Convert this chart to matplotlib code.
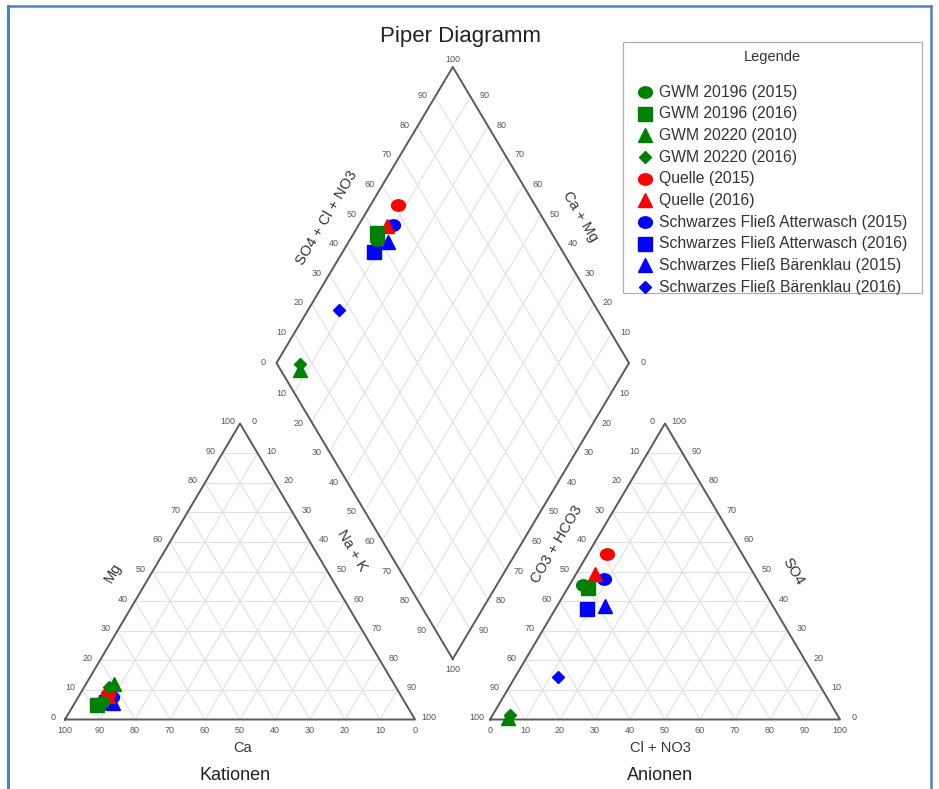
import numpy as np
import matplotlib.pyplot as plt
from matplotlib.path import Path
from matplotlib.patches import Rectangle

plt.rcParams['font.family'] = ['Liberation Sans', 'DejaVu Sans']

# Proben
proben = ["GWM 20196 (2015)", "GWM 20196 (2016)", "GWM 20220 (2010)", "GWM 20220 (2016)",
          "Quelle (2015)", "Quelle (2016)",
          "Schwarzes Fließ Atterwasch (2015)", "Schwarzes Fließ Atterwasch (2016)",
          "Schwarzes Fließ Bärenklau (2015)", "Schwarzes Fließ Bärenklau (2016)"]
farben = ["green", "green", "green", "green", "red", "red", "blue", "blue", "blue", "blue"]
symbole = ["o", "s", "^", "D", "o", "^", "o", "s", "^", "D"]

# Kationen (%)
mg = np.array([6.0, 5.0, 12.0, 11.0, 8.5, 8.0, 7.5, 6.0, 5.5, 7.0])
na_k = np.array([7.6, 6.5, 8.0, 7.0, 7.9, 8.3, 9.6, 8.8, 11.1, 8.8])
ca = 100 - mg - na_k

# Anionen (%)
so4 = np.array([45.3, 44.5, 0.5, 1.5, 56.0, 49.2, 47.5, 37.4, 38.5, 14.5])
cl_no3 = np.array([4.0, 5.8, 5.0, 5.0, 5.3, 5.4, 8.8, 8.9, 13.6, 12.2])
hco3 = 100 - so4 - cl_no3

ticks = np.arange(0, 101, 10)

# Geometrie (Pixel)
KAT = [np.array([65, 719.5]), np.array([415, 719.5]), np.array([240, 423.5])]   # Ca, Na+K, Mg
AN = [np.array([490, 719.5]), np.array([840, 719.5]), np.array([665, 423.5])]   # CO3, Cl, SO4
RB = np.array([452.7, 659.0])
RL = np.array([276.5, 363.0])
RR = np.array([629.0, 363.0])
RT = RL + RR - RB

GRID = "#e1e1e1"
EDGE = "#5a5a5a"
TICK = "#555555"


def tern(p, w1, w2):
    return p[0] + np.multiply.outer(w1, p[1] - p[0]) + np.multiply.outer(w2, p[2] - p[0])


def raute(w1, w2):
    return RB + np.multiply.outer(w1, RL - RB) + np.multiply.outer(w2, RR - RB)


fig = plt.figure(figsize=(9.39, 7.89), dpi=100)
ax = fig.add_axes([0, 0, 1, 1])
ax.set_xlim(0, 939)
ax.set_ylim(789, 0)
ax.axis('off')

# Rahmen
ax.plot([8, 8], [6, 789], color="#4f81bd", lw=2.2)
ax.plot([8, 931], [6, 6], color="#4f81bd", lw=1.8)
ax.plot([931, 931], [6, 789], color="#4f81bd", lw=1.8)

# Dreiecke
for p in (KAT, AN):
    for k in ticks[1:-1] / 100:
        for a, b in [((k, 0), (k, 1 - k)), ((0, k), (1 - k, k)), ((1 - k, 0), (0, 1 - k))]:
            s = tern(p, a[0], a[1]); e = tern(p, b[0], b[1])
            ax.plot([s[0], e[0]], [s[1], e[1]], color=GRID, lw=0.8, zorder=1)
    ecken = np.array(p + [p[0]])
    ax.plot(ecken[:, 0], ecken[:, 1], color=EDGE, lw=1.4, zorder=2)

# Raute
for k in ticks[1:-1] / 100:
    for a, b in [((k, 0), (k, 1)), ((0, k), (1, k))]:
        s = raute(*a); e = raute(*b)
        ax.plot([s[0], e[0]], [s[1], e[1]], color=GRID, lw=0.8, zorder=1)
ecken = np.array([RB, RL, RT, RR, RB])
ax.plot(ecken[:, 0], ecken[:, 1], color=EDGE, lw=1.4, zorder=2)


def lab(pt, txt, dx, dy):
    ax.text(pt[0] + dx, pt[1] + dy, txt, fontsize=6.5, color=TICK, ha="center", va="center")


for v in ticks:
    f = v / 100
    # Kationen
    lab(tern(KAT, 0, f), str(v), -12, -2)
    lab(tern(KAT, 1 - f, 0), str(v), 0, 11)
    lab(tern(KAT, f, 1 - f), str(v), 14, -2)
    # Anionen
    lab(tern(AN, 0, 1 - f), str(v), -13, -2)
    lab(tern(AN, f, 0), str(v), 0, 11)
    lab(tern(AN, 1 - f, f), str(v), 14, -2)
    # Raute
    if v < 100:
        lab(raute(1, f), str(v), -13, -1)
        lab(raute(f, 1), str(v), 14, -1)
    if 0 < v < 100:
        lab(raute(1 - f, 0), str(v), -13, 1)
        lab(raute(0, 1 - f), str(v), 13, 1)
lab(RT, "100", 0, -8)
lab(RB, "100", 0, 11)

# Achsentitel
ax.text(460, 36, "Piper Diagramm", fontsize=16, color="#222222", ha="center", va="center")
ax.text(113, 573, "Mg", fontsize=10.5, color="#333333", rotation=59.4, ha="center", va="center")
ax.text(352, 550, "Na + K", fontsize=10.5, color="#333333", rotation=-59.4, ha="center", va="center")
ax.text(243, 748, "Ca", fontsize=10.5, color="#333333", ha="center", va="center")
ax.text(235, 775, "Kationen", fontsize=13, color="#222222", ha="center", va="center")
ax.text(557, 544, "CO3 + HCO3", fontsize=10.5, color="#333333", rotation=59.4, ha="center", va="center")
ax.text(793, 572, "SO4", fontsize=10.5, color="#333333", rotation=-59.4, ha="center", va="center")
ax.text(660, 748, "Cl + NO3", fontsize=10.5, color="#333333", ha="center", va="center")
ax.text(660, 775, "Anionen", fontsize=13, color="#222222", ha="center", va="center")
ax.text(327, 218, "SO4 + Cl + NO3", fontsize=10.5, color="#333333", rotation=59.4, ha="center", va="center")
ax.text(580, 217, "Ca + Mg", fontsize=10.5, color="#333333", rotation=-59.4, ha="center", va="center")

# Marker
kreis = Path(Path.unit_circle().vertices * [1.0, 0.82], Path.unit_circle().codes)
groesse = {"o": 10, "s": 9.5, "^": 10, "D": 6.5}


def mk(m):
    return kreis if m == "o" else m


xy_kat = tern(KAT, na_k / 100, mg / 100)
xy_an = tern(AN, cl_no3 / 100, so4 / 100)
xy_r = raute((ca + mg) / 100, (so4 + cl_no3) / 100)

for i in reversed(range(len(proben))):
    pts = np.array([xy_kat[i], xy_an[i], xy_r[i]])
    ax.plot(pts[:, 0], pts[:, 1], ls="none", marker=mk(symbole[i]), ms=groesse[symbole[i]],
            color=farben[i], mec=farben[i], zorder=5)

# Legende
ax.add_patch(Rectangle((623, 42), 299, 251, facecolor="white", edgecolor="#b0b0b0", lw=0.9, zorder=6))
ax.text(772, 57, "Legende", fontsize=10.5, color="#333333", ha="center", va="center", zorder=7)
for i, name in enumerate(proben):
    y = 92 + i * 21.67
    ax.plot(645, y, marker=mk(symbole[i]), ms=groesse[symbole[i]], color=farben[i], zorder=7)
    ax.text(659, y, name, fontsize=11.3, color="#333333", ha="left", va="center", zorder=7)

fig.savefig("out.png", dpi=100)
